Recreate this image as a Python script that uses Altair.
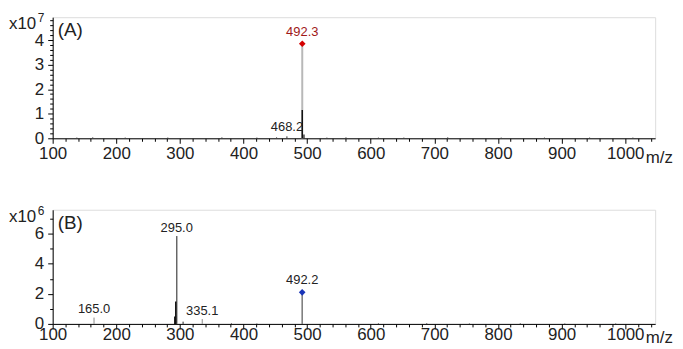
import altair as alt
import pandas as pd

FONT = "Liberation Sans"

# ---------------- Panel A (intensity, x10^7) ----------------
A_MZ = [492.3, 492.3, 468.2, 495.0, 138, 163, 214, 281, 366, 421, 452, 531, 561, 612, 652, 721, 805, 873, 944, 1012]
A_INT = [3.85, 1.15, 0.08, 0.15, 0.03, 0.04, 0.03, 0.03, 0.04, 0.03, 0.04, 0.03, 0.04, 0.03, 0.03, 0.04, 0.03, 0.03, 0.03, 0.03]
A_COLOR = ["#b8b8b8", "#111111", "#333333", "#111111"] + ["#444444"] * 16
A_WIDTH = [2, 1.5, 1, 1.2] + [1] * 16

A_MARK_MZ = [492.3]
A_MARK_INT = [3.85]
A_MARK_COLOR = ["#d40000"]

A_LAB = ["492.3", "468.2"]
A_LAB_MZ = [492.3, 468.2]
A_LAB_INT = [3.85, 0.08]
A_LAB_COLOR = ["#a01818", "#222222"]
A_LAB_DY = [-8, -5]

# ---------------- Panel B (intensity, x10^6) ----------------
B_MZ = [165.0, 295.0, 293.5, 292.0, 305.0, 335.1, 492.2, 381, 421, 612, 688, 755, 835, 905, 985]
B_INT = [0.42, 5.85, 1.5, 0.5, 0.15, 0.32, 2.1, 0.05, 0.04, 0.05, 0.06, 0.04, 0.05, 0.04, 0.04]
B_COLOR = ["#8a8a8a", "#666666", "#111111", "#111111", "#222222", "#8a8a8a", "#777777"] + ["#555555"] * 8
B_WIDTH = [1, 1.5, 1.5, 1.5, 1, 1, 1.5] + [1] * 8

B_MARK_MZ = [492.2]
B_MARK_INT = [2.1]
B_MARK_COLOR = ["#1a35b8"]

B_LAB = ["295.0", "492.2", "165.0", "335.1"]
B_LAB_MZ = [295.0, 492.2, 165.0, 335.1]
B_LAB_INT = [5.85, 2.1, 0.42, 0.32]
B_LAB_COLOR = ["#222222"] * 4
B_LAB_DY = [-4, -8, -5, -4]

X_DOMAIN = [100, 1047]
X_TICKS = list(range(100, 1041, 20))


def cond(test, a, b):
    return {"condition": {"test": test, "value": a}, "value": b}


def x_enc(lpad, title_y):
    t = "datum.value % 100 == 0"
    return alt.X(
        "mz:Q",
        scale=alt.Scale(domain=X_DOMAIN, nice=False, zero=False),
        axis=alt.Axis(
            values=X_TICKS,
            format="d",
            labelExpr=t + " ? datum.label : ''",
            tickSize=cond(t, 5, 3),
            labelFontSize=cond(t, 17, 0),
            labelOverlap=False,
            labelFlush=False,
            grid=False,
            domainColor="#000",
            tickColor="#000",
            labelColor="#222",
            labelFont=FONT,
            labelPadding=lpad,
            title="m/z",
            titleFont=FONT,
            titleFontSize=17,
            titleFontWeight="normal",
            titleColor="#222",
            titleAlign="left",
            titleBaseline="alphabetic",
            titleX=597,
            titleY=title_y,
        ),
    )


def y_enc(domain, values, major_test):
    return alt.Y(
        "int:Q",
        scale=alt.Scale(domain=domain, nice=False),
        axis=alt.Axis(
            values=values,
            labelExpr=major_test + " ? format(datum.value, 'd') : ''",
            tickSize=cond(major_test, 5, 3),
            labelFontSize=cond(major_test, 17, 0),
            labelOverlap=False,
            labelFlush=False,
            grid=False,
            domainColor="#000",
            tickColor="#000",
            labelColor="#222",
            labelFont=FONT,
            labelPadding=4,
            title=None,
        ),
    )


def panel(mz, inten, color, width, mmz, mint, mcol, lab, lmz, lint, lcol, ldy,
          ydomain, yvalues, ytest, tag, exp, h, lpad, title_y):
    sticks = pd.DataFrame({"mz": mz, "int": inten, "c": color, "w": width})
    marks = pd.DataFrame({"mz": mmz, "int": mint, "c": mcol})
    labels = pd.DataFrame({"mz": lmz, "int": lint, "t": lab, "c": lcol, "dy": ldy})

    X = x_enc(lpad, title_y)
    Y = y_enc(ydomain, yvalues, ytest)

    rules = alt.Chart(sticks).mark_rule().encode(
        x=X,
        y=Y,
        y2=alt.datum(0),
        color=alt.Color("c:N", scale=None),
        strokeWidth=alt.StrokeWidth("w:Q", scale=None),
    )
    pts = alt.Chart(marks).mark_point(shape="diamond", filled=True, size=45, opacity=1).encode(
        x=X, y=Y, color=alt.Color("c:N", scale=None)
    )
    texts = []
    for i in range(len(lab)):
        sub = labels.iloc[[i]]
        texts.append(
            alt.Chart(sub).mark_text(font=FONT, fontSize=13, baseline="alphabetic", dy=ldy[i]).encode(
                x=X, y=Y, text="t:N", color=alt.Color("c:N", scale=None)
            )
        )
    tag_t = alt.Chart(pd.DataFrame({"t": [tag]})).mark_text(
        font=FONT, fontSize=19, align="left", baseline="middle", color="#222"
    ).encode(text="t:N", x=alt.value(5), y=alt.value(13))
    x10 = alt.Chart(pd.DataFrame({"t": ["x10"]})).mark_text(
        font=FONT, fontSize=17, align="left", baseline="alphabetic", color="#222"
    ).encode(text="t:N", x=alt.value(-44), y=alt.value(12))
    sup = alt.Chart(pd.DataFrame({"t": [exp]})).mark_text(
        font=FONT, fontSize=12, align="left", baseline="alphabetic", color="#222"
    ).encode(text="t:N", x=alt.value(-15), y=alt.value(5))
    return alt.layer(rules, pts, *texts, tag_t, x10, sup).properties(width=607, height=h)


A_Y_TICKS = [round(i * 0.2, 1) for i in range(25)]
B_Y_TICKS = [0, 1, 2, 3, 4, 5, 6, 7]

chart_a = panel(A_MZ, A_INT, A_COLOR, A_WIDTH, A_MARK_MZ, A_MARK_INT, A_MARK_COLOR,
                A_LAB, A_LAB_MZ, A_LAB_INT, A_LAB_COLOR, A_LAB_DY,
                [0, 4.93], A_Y_TICKS, "datum.value % 1 == 0", "(A)", "7", 122, 2, 24)
chart_b = panel(B_MZ, B_INT, B_COLOR, B_WIDTH, B_MARK_MZ, B_MARK_INT, B_MARK_COLOR,
                B_LAB, B_LAB_MZ, B_LAB_INT, B_LAB_COLOR, B_LAB_DY,
                [0, 7.6], B_Y_TICKS, "datum.value % 2 == 0", "(B)", "6", 115, -2, 19)

chart = alt.vconcat(chart_a, chart_b, spacing=38).properties(
    padding={"left": 0, "top": 2, "right": 2, "bottom": 0}
).configure_view(stroke=None).configure_axis(labelOverlap=False).configure(background="white")

chart.save("out.html", embed_options={"renderer": "svg", "actions": False})
